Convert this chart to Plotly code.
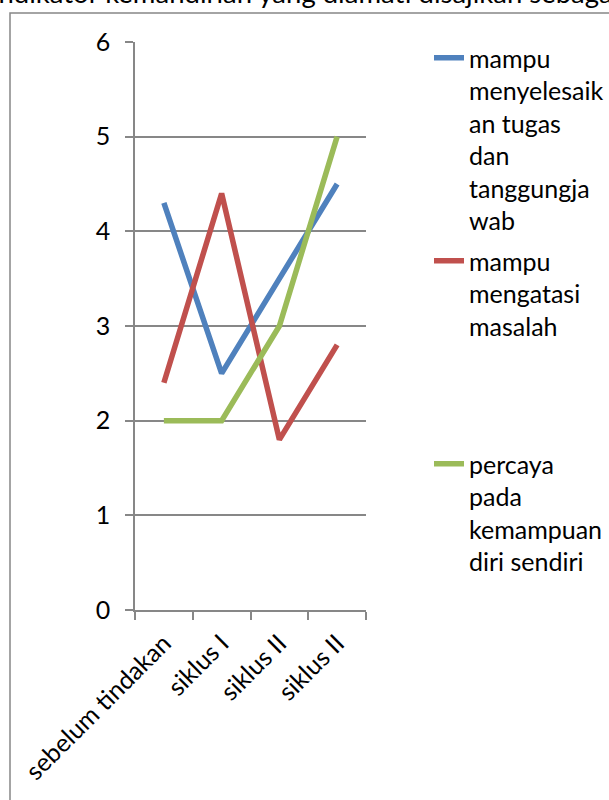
import plotly.graph_objects as go

categories = ["sebelum tindakan", "siklus I", "siklus II", "siklus II"]
series_names = [
    "mampu<br>menyelesaik<br>an tugas<br>dan<br>tanggungja<br>wab",
    "mampu<br>mengatasi<br>masalah",
    "percaya<br>pada<br>kemampuan<br>diri sendiri",
]
blue_vals = [4.3, 2.5, 3.5, 4.5]
red_vals = [2.4, 4.4, 1.8, 2.8]
green_vals = [2.0, 2.0, 3.0, 5.0]
y_ticks = [0, 1, 2, 3, 4, 5, 6]
title_text = "Indikator kemandirian yang diamati disajikan sebagai berikut:"

colors = ["#4F81BD", "#C0504D", "#9BBB59"]
FONT = "Lato"
FS = 25
GRID = "#878787"

W, H = 609, 800
L, R, T, B = 135, 243, 42, 190
pw, ph = W - L - R, H - T - B

def px2x(p):
    return (p - L) / pw

def px2y(p):
    return (H - B - p) / ph

xpos = list(range(len(categories)))

fig = go.Figure()
legends = ["legend", "legend2", "legend3"]
for name, vals, col, lg in zip(series_names, [blue_vals, red_vals, green_vals], colors, legends):
    fig.add_trace(go.Scatter(
        x=xpos, y=vals, mode="lines", name=name,
        line=dict(color=col, width=5.5),
        legend=lg, hoverinfo="skip",
    ))

leg_common = dict(
    font=dict(family=FONT, size=FS, color="black"),
    bgcolor="rgba(0,0,0,0)", borderwidth=0,
    xanchor="left", yanchor="top", valign="top",
    tracegroupgap=0, itemclick=False, itemdoubleclick=False,
)
lx = px2x(429)
fig.update_layout(
    legend=dict(x=lx, y=px2y(35), **leg_common),
    legend2=dict(x=lx, y=px2y(238), **leg_common),
    legend3=dict(x=lx, y=px2y(441), **leg_common),
)

fig.update_layout(
    width=W, height=H,
    margin=dict(l=L, r=R, t=T, b=B, pad=0, autoexpand=False),
    paper_bgcolor="white", plot_bgcolor="white",
    font=dict(family=FONT, size=FS, color="black"),
    showlegend=True,
    xaxis=dict(
        range=[-0.5, len(categories) - 0.5],
        tickmode="array", tickvals=xpos, ticktext=categories,
        tickangle=-45, ticks="", showgrid=False, zeroline=False,
        showline=True, linecolor=GRID, linewidth=1.5,
        tickfont=dict(family=FONT, size=FS, color="black"),
        ticklabelstandoff=7,
        minor=dict(
            tickmode="array",
            tickvals=[i - 0.5 for i in range(len(categories) + 1)],
            ticks="outside", ticklen=8, tickwidth=1.5, tickcolor=GRID,
            showgrid=False,
        ),
        fixedrange=True,
    ),
    yaxis=dict(
        range=[0, 6], tickmode="array", tickvals=y_ticks,
        ticks="outside", ticklen=8, tickwidth=1.5, tickcolor=GRID,
        showgrid=True, gridcolor=GRID, gridwidth=1.5,
        zeroline=False, showline=True, linecolor=GRID, linewidth=1.5,
        tickfont=dict(family=FONT, size=FS, color="black"),
        ticklabelstandoff=10,
        fixedrange=True,
    ),
    shapes=[dict(
        type="rect", xref="paper", yref="paper",
        x0=px2x(10), x1=px2x(W + 20), y0=px2y(H + 20), y1=px2y(13),
        line=dict(color=GRID, width=1.5), fillcolor="rgba(0,0,0,0)",
        layer="below",
    )],
    annotations=[dict(
        text=title_text, xref="paper", yref="paper",
        x=px2x(-10), y=px2y(10), xanchor="left", yanchor="bottom",
        showarrow=False, font=dict(family=FONT, size=27.5, color="black"),
        borderpad=0,
    )],
)

fig.write_html("out.html", config={"displayModeBar": False})
